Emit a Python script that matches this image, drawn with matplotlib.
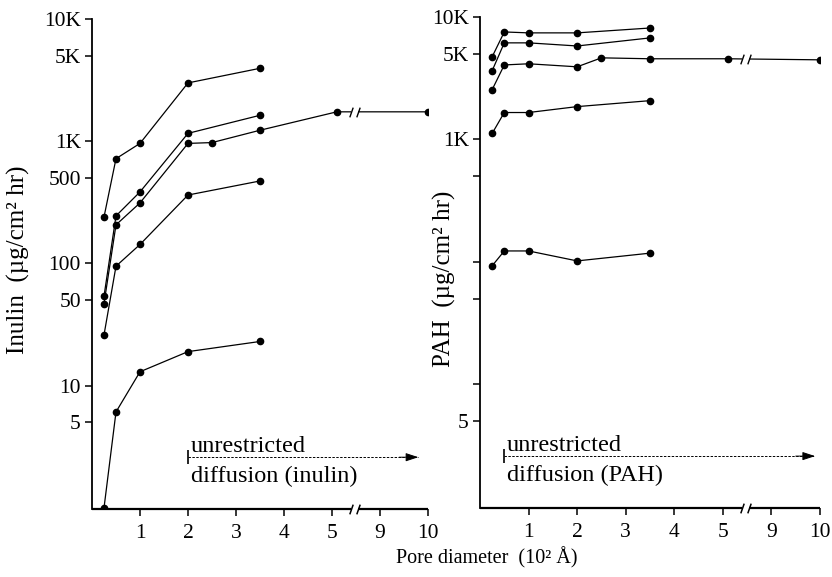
import numpy as np
import matplotlib
matplotlib.use('Agg')
import matplotlib.pyplot as plt
from matplotlib.path import Path
from matplotlib.transforms import blended_transform_factory

plt.rcParams['font.family'] = ['Liberation Serif', 'DejaVu Serif']
plt.rcParams['font.size'] = 14

# ---------------- data ----------------
inulin_x = [
    [0.25, 0.5, 1, 2, 3.5],
    [0.25, 0.5, 1, 2, 3.5],
    [0.25, 0.5, 1, 2, 2.5, 3.5, 5.1, 10],
    [0.25, 0.5, 1, 2, 3.5],
    [0.25, 0.5, 1, 2, 3.5],
]
inulin_y = [
    [240, 720, 960, 3000, 3950],
    [54, 245, 385, 1160, 1630],
    [47, 207, 313, 960, 975, 1230, 1740, 1740],
    [26, 95, 143, 363, 473],
    [1.0, 6.1, 13, 19, 23],
]
pah_x = [
    [0.25, 0.5, 1, 2, 3.5],
    [0.25, 0.5, 1, 2, 3.5],
    [0.25, 0.5, 1, 2, 2.5, 3.5, 5.1, 10],
    [0.25, 0.5, 1, 2, 3.5],
    [0.25, 0.5, 1, 2, 3.5],
]
pah_y = [
    [4730, 7550, 7420, 7420, 8130],
    [3640, 6150, 6150, 5800, 6750],
    [2550, 4060, 4150, 3920, 4640, 4560, 4560, 4470],
    [1120, 1660, 1660, 1855, 2075],
    [93, 123, 123, 102, 118],
]
x_ticks = [1, 2, 3, 4, 5, 9, 10]
x_ticklabels = ['1', '2', '3', '4', '5', '9', '10']
y_ticks = [10000, 5000, 1000, 500, 100, 50, 10, 5]
left_ylabels = ['10K', '5K', '1K', '500', '100', '50', '10', '5']
right_ylabels = ['10K', '5K', '1K', '', '', '', '', '5']

inulin_arrow = (2.0, 9.8, 2.6)
pah_arrow = (0.5, 9.9, 2.6)

# ---------------- broken x scale ----------------
B0, B1, BW = 5.4, 8.6, 0.2
SHIFT = B1 - B0 - BW


def fwd(x):
    x = np.asarray(x, float)
    return np.where(x <= B0, x,
                    np.where(x >= B1, x - SHIFT, B0 + (x - B0) * BW / (B1 - B0)))


def inv(t):
    t = np.asarray(t, float)
    return np.where(t <= B0, t,
                    np.where(t >= B0 + BW, t + SHIFT, B0 + (t - B0) * (B1 - B0) / BW))


slash = Path([(-0.35, -1.0), (0.35, 1.0)], [Path.MOVETO, Path.LINETO])
brk_fr = [5.40 / 7.0, 5.54 / 7.0]

TICK_FS = 15.5
LAB_FS = 18
ANN_FS = 17.5

fig = plt.figure(figsize=(8.32, 5.77), dpi=100)
axL = fig.add_axes([92 / 832, 1 - 509 / 577, 336 / 832, 490 / 577])
axR = fig.add_axes([480 / 832, 1 - 508 / 577, 340 / 832, 491 / 577])


def style(ax, xs, ys, ylabels, arrow, text2, ylab, ylab_pos):
    ax.set_yscale('log')
    ax.set_xscale('function', functions=(fwd, inv))
    ax.set_xlim(0, 10)
    ax.set_ylim(0.98, 10000)
    for sx, sy in zip(xs, ys):
        ax.plot(sx, sy, color='black', lw=0.9, marker='o', ms=4.5,
                mfc='black', mec='black', zorder=3)
    # break on the long series
    bt = blended_transform_factory(ax.transAxes, ax.transData)
    sy = ys[2]
    yb = np.sqrt(sy[-2] * sy[-1])
    ax.plot(brk_fr, [yb, yb], transform=bt, color='white', lw=3, zorder=4,
            solid_capstyle='butt')
    ax.plot(brk_fr, [yb, yb], transform=bt, ls='none', marker=slash, ms=7,
            mec='black', mew=1.0, zorder=5)

    for s in ['top', 'right', 'bottom']:
        ax.spines[s].set_visible(False)
    ax.spines['left'].set_linewidth(1.3)
    ax.plot([0, brk_fr[0]], [0, 0], transform=ax.transAxes, color='black',
            lw=1.6, clip_on=False, solid_capstyle='butt')
    ax.plot([brk_fr[1], 1], [0, 0], transform=ax.transAxes, color='black',
            lw=1.6, clip_on=False, solid_capstyle='butt')
    ax.plot(brk_fr, [0, 0], transform=ax.transAxes, ls='none', marker=slash,
            ms=7, mec='black', mew=1.1, clip_on=False)

    ax.set_xticks(x_ticks)
    ax.set_xticklabels(x_ticklabels)
    ax.xaxis.set_minor_locator(matplotlib.ticker.NullLocator())
    ax.set_yticks(y_ticks)
    ax.set_yticklabels(ylabels)
    ax.yaxis.set_minor_locator(matplotlib.ticker.NullLocator())
    ax.tick_params(axis='both', direction='out', length=5, width=1.1,
                   labelsize=TICK_FS, pad=3)
    ax.tick_params(axis='x', pad=6)

    x0, x1, ya = arrow
    ax.plot([x0, x1], [ya, ya], color='black', lw=0.7, ls=(0, (2.5, 1.5)))
    ax.annotate('', xy=(x1, ya), xytext=(x1 - 0.4, ya),
                arrowprops=dict(arrowstyle='-|>,head_length=0.55,head_width=0.18',
                                color='black', lw=0.7, shrinkA=0, shrinkB=0))
    ax.plot([x0], [ya], ls='none', marker='|', ms=10, mew=1.2, color='black')
    ax.annotate('unrestricted', xy=(x0, ya), xytext=(2, 3.5),
                textcoords='offset points', ha='left', va='baseline',
                fontsize=ANN_FS)
    ax.annotate(text2, xy=(x0, ya), xytext=(2, -6),
                textcoords='offset points', ha='left', va='top',
                fontsize=ANN_FS)

    ax.set_ylabel(ylab, fontsize=LAB_FS)
    ax.yaxis.set_label_coords(*ylab_pos)


style(axL, inulin_x, inulin_y, left_ylabels, inulin_arrow,
      'diffusion (inulin)', 'Inulin  (\u00b5g/cm\u00b2 hr)', (-0.185, 0.508))
style(axR, pah_x, pah_y, right_ylabels, pah_arrow,
      'diffusion (PAH)', 'PAH  (\u00b5g/cm\u00b2 hr)', (-0.07, 0.466))

fig.text(487 / 832, 1 - 558 / 577, 'Pore diameter  (10\u00b2 \u00c5)',
         ha='center', va='center', fontsize=14.5)

fig.savefig('out.png', dpi=100)
